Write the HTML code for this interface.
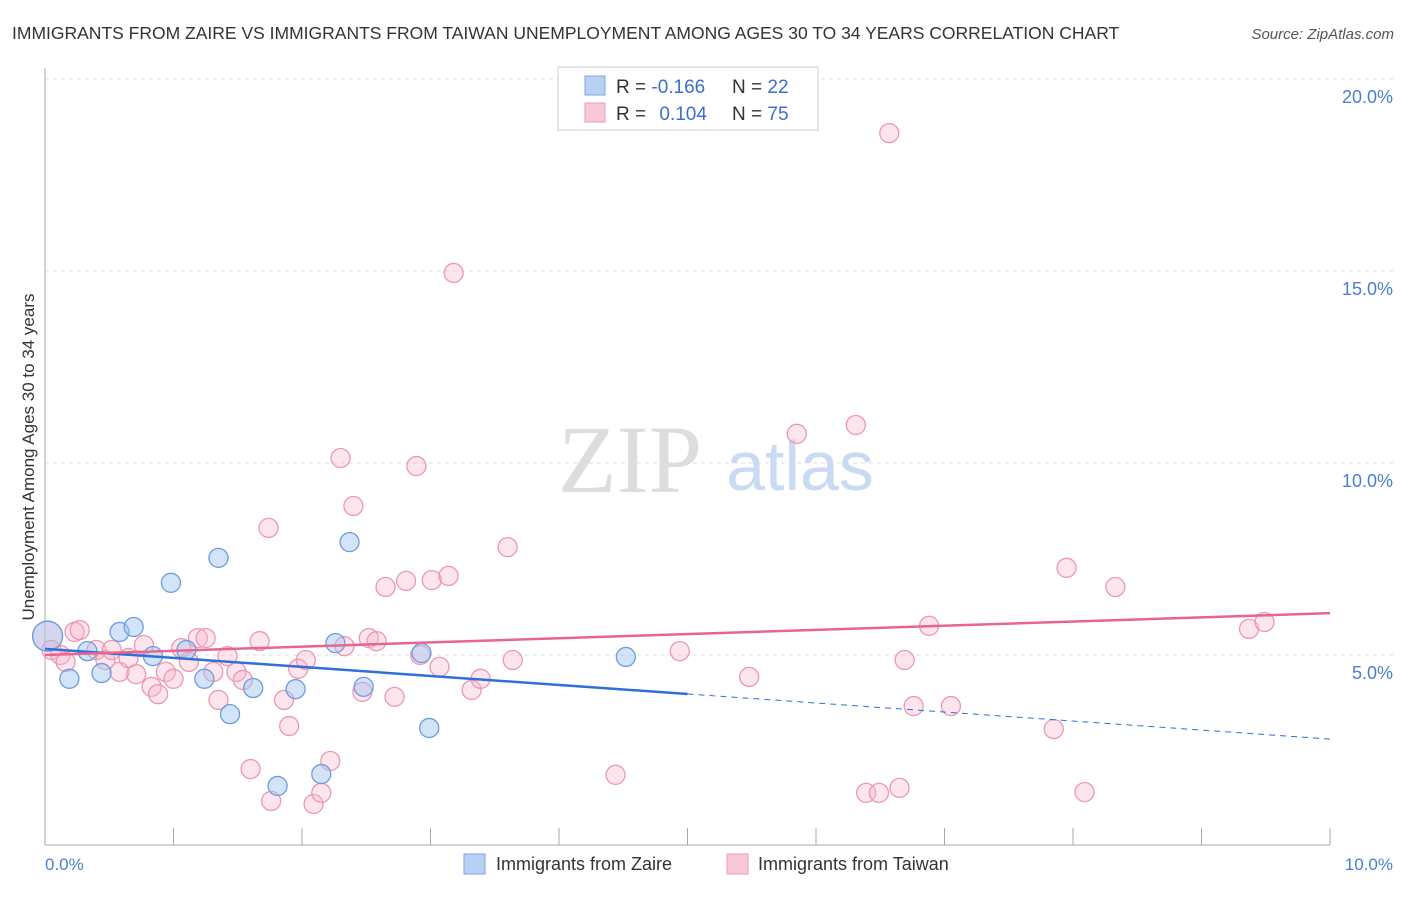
<!DOCTYPE html>
<html><head><meta charset="utf-8"><style>
body{margin:0;background:#fff;font-family:"Liberation Sans",sans-serif;}
svg text{font-family:"Liberation Sans",sans-serif;}
</style></head><body>
<svg id="chart" width="1406" height="892">
<text x="12" y="39" font-size="17.5" fill="#333">IMMIGRANTS FROM ZAIRE VS IMMIGRANTS FROM TAIWAN UNEMPLOYMENT AMONG AGES 30 TO 34 YEARS CORRELATION CHART</text>
<text x="1394" y="39" font-size="15" fill="#555" font-style="italic" text-anchor="end">Source: ZipAtlas.com</text>
<g id="grid"></g>
<text x="630" y="492" font-size="96" fill="#ddd" font-family="Liberation Serif,serif" text-anchor="middle" style="font-family:'Liberation Serif',serif">ZIP</text>
<text x="800" y="490" font-size="70" fill="#c9daf2" text-anchor="middle">atlas</text>
<g id="points"></g>
<g id="trends"></g>
<text transform="translate(34,457) rotate(-90)" font-size="17" fill="#333" text-anchor="middle">Unemployment Among Ages 30 to 34 years</text>
<text x="45" y="870" font-size="17" fill="#4a7fd4">0.0%</text>
<text x="1393" y="870" font-size="17" fill="#4a7fd4" text-anchor="end">10.0%</text>
<g>
<rect x="558" y="67" width="260" height="63" fill="#fff" stroke="#ccc"/>
<rect x="585" y="76" width="20" height="19" fill="#b8d1f3" stroke="#7aa6e0"/>
<rect x="585" y="103" width="20" height="19" fill="#f9c8d7" stroke="#ec9ab4"/>
<text x="616" y="93" font-size="19" fill="#333">R = <tspan fill="#3a6fd0">-0.166</tspan></text>
<text x="732" y="93" font-size="19" fill="#333">N = <tspan fill="#3a6fd0">22</tspan></text>
<text x="616" y="120" font-size="19" fill="#333">R = <tspan fill="#3a6fd0" dx="8">0.104</tspan></text>
<text x="732" y="120" font-size="19" fill="#333">N = <tspan fill="#3a6fd0">75</tspan></text>
</g>
<g>
<rect x="464" y="854" width="21" height="20" fill="#b8d1f3" stroke="#7aa6e0"/>
<text x="496" y="870" font-size="18" fill="#333">Immigrants from Zaire</text>
<rect x="727" y="854" width="21" height="20" fill="#f9c8d7" stroke="#ec9ab4"/>
<text x="758" y="870" font-size="18" fill="#333">Immigrants from Taiwan</text>
</g>
</svg>
<script>
const yTicks=[5,10,15,20];
const xTicks=[0,1,2,3,4,5,6,7,8,9,10];
const zaireX=[0.02,0.19,0.33,0.44,0.58,0.69,0.84,0.98,1.10,1.24,1.35,1.44,1.62,1.81,1.95,2.15,2.26,2.37,2.48,2.93,2.99,4.52];
const zaireY=[5.49,4.38,5.10,4.53,5.60,5.73,4.97,6.88,5.13,4.38,7.53,3.46,4.14,1.59,4.11,1.90,5.31,7.94,4.17,5.05,3.10,4.95];
const taiwanX=[0.02,0.05,0.12,0.16,0.23,0.27,0.40,0.47,0.52,0.58,0.65,0.71,0.77,0.83,0.88,0.94,1.00,1.06,1.12,1.19,1.25,1.31,1.35,1.42,1.49,1.54,1.60,1.67,1.74,1.76,1.86,1.90,1.97,2.03,2.09,2.15,2.22,2.30,2.33,2.40,2.47,2.52,2.58,2.65,2.72,2.81,2.89,2.92,3.01,3.07,3.14,3.18,3.32,3.39,3.60,3.64,4.44,4.94,5.48,5.85,6.31,6.39,6.49,6.57,6.65,6.69,6.76,6.88,7.05,7.85,7.95,8.09,8.33,9.37,9.49];
const taiwanY=[5.49,5.13,5.0,4.82,5.6,5.65,5.13,4.87,5.13,4.56,4.92,4.5,5.26,4.17,3.98,4.56,4.38,5.18,4.82,5.44,5.44,4.56,3.83,4.97,4.56,4.35,2.03,5.36,8.31,1.20,3.83,3.15,4.64,4.87,1.12,1.41,2.24,10.13,5.23,8.88,4.04,5.44,5.36,6.77,3.91,6.93,9.92,5.0,6.95,4.69,7.06,14.95,4.09,4.38,7.81,4.87,1.88,5.10,4.43,10.76,10.99,1.41,1.41,18.59,1.54,4.87,3.67,5.76,3.67,3.07,7.27,1.43,6.77,5.68,5.86];
const zaireTrend=[5.16,2.81]; // y at x=0 and x=10
const zaireSolidEnd=5.0;
const taiwanTrend=[5.0,6.09];
const NS='http://www.w3.org/2000/svg';
const X=v=>45+v*128.5, Y=v=>847-v*38.4;
function mk(t,a,p){const e=document.createElementNS(NS,t);for(const k in a)e.setAttribute(k,a[k]);p.appendChild(e);return e;}
const grid=document.getElementById('grid');
yTicks.forEach(t=>{
 const l=mk('line',{x1:45,x2:1393,y1:Y(t),y2:Y(t),stroke:'#ddd','stroke-dasharray':'4,4'},grid);
 
 
 const tx=mk('text',{x:1393,y:Y(t)+24,'font-size':18,fill:'#4a7fd4','text-anchor':'end'},grid);
 tx.textContent=t.toFixed(1)+'%';
 
 
});
const ax=mk('line',{x1:45,x2:45,y1:68,y2:845,stroke:'#aaa'},grid);


const bx=mk('line',{x1:45,x2:1330,y1:845,y2:845,stroke:'#aaa'},grid);


xTicks.forEach(t=>{
 const l=mk('line',{x1:X(t),x2:X(t),y1:828,y2:845,stroke:'#aaa'},grid);
 
 
});
const pts=document.getElementById('points');
function dots(xs,ys,fill,stroke,name){
 xs.forEach((x,i)=>{
  const r=(i===0)?15:9.5;
  const c=mk('circle',{cx:X(x),cy:Y(ys[i]),r:r,fill:fill,stroke:stroke,'stroke-width':1.3},pts);
  
  
 });
}
dots(taiwanX,taiwanY,'rgba(248,180,202,0.35)','#ec98b2','point-taiwan');
dots(zaireX,zaireY,'rgba(160,196,240,0.45)','#6b9de0','point-zaire');
const tr=document.getElementById('trends');
const zAt=x=>zaireTrend[0]+(zaireTrend[1]-zaireTrend[0])*x/10;
let l1=mk('line',{x1:X(0),y1:Y(zAt(0)),x2:X(zaireSolidEnd),y2:Y(zAt(zaireSolidEnd)),stroke:'#2f6fd6','stroke-width':2.5},tr);


let l2=mk('line',{x1:X(zaireSolidEnd),y1:Y(zAt(zaireSolidEnd)),x2:X(10),y2:Y(zAt(10)),stroke:'#2f6fd6','stroke-width':1,'stroke-dasharray':'6,5'},tr);


let l3=mk('line',{x1:X(0),y1:Y(taiwanTrend[0]),x2:X(10),y2:Y(taiwanTrend[1]),stroke:'#e8658f','stroke-width':2.5},tr);


</script>
</body></html>
